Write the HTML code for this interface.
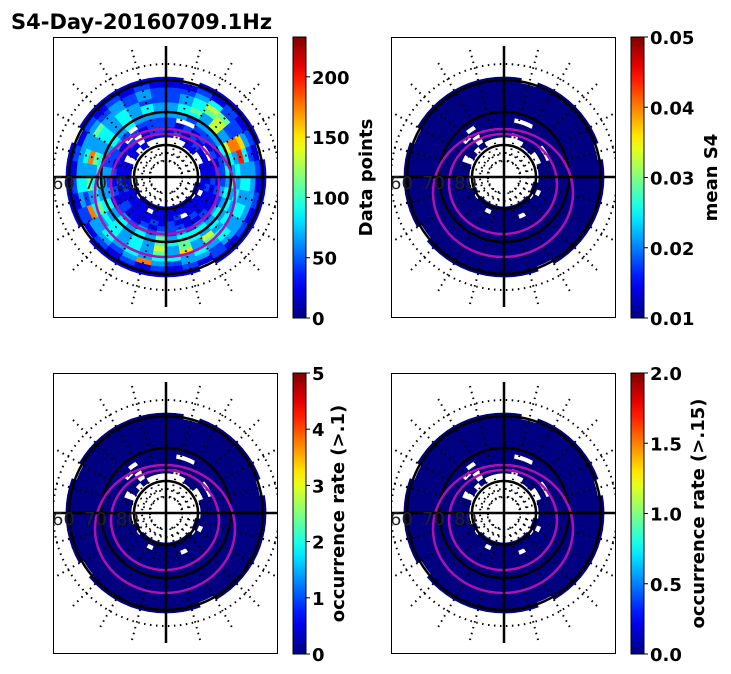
<!DOCTYPE html>
<html><head><meta charset="utf-8">
<style>
html,body{margin:0;padding:0;background:#fff;}
svg{display:block;font-family:"DejaVu Sans","Liberation Sans",sans-serif;}
</style></head>
<body>
<svg id="fig" width="731" height="674" viewBox="0 0 731 674" xmlns="http://www.w3.org/2000/svg">
<text x="11" y="29" font-size="21" font-weight="bold" fill="#000">S4-Day-20160709.1Hz</text>
</svg>
<script>
// ring-by-sector data (level 0-9, value = level*22 data points; '.' = no data); 36 sectors of 10°, clockwise from north
const ringRadii = [30,35,40,45,50,55,60,65,70,75,80,85,90,95,100];
const countLevels = [
"..........11.1111111111.1...........",
"...11..1111.11111111.11111111.1.1...",
"1.1121111121111.2111111112111.11.111",
"12121..1121111211212111211211112.122",
"2121212121211211222121121212121.2122",
"2..22212223232323232323213232232.222",
"332333434343434443534343433323434333",
"344363643534343454534343434543434343",
"345363834343436353634344544353434343",
"234562893434345373534343435383434322",
"234652743434343434434343824343533232",
"223422323333332332383233234333323232",
"112121212121212121212121212121212121",
"1.11111.1111111.1111111.11111.111111"
];
const panelNames = ["data-points","mean-s4","occurrence-rate-01","occurrence-rate-015"];
const panelCenters = [[166,177],[504,177],[166,513],[504,513]];
const cbTicks = [[0,50,100,150,200],[0.01,0.02,0.03,0.04,0.05],[0,1,2,3,4,5],[0.0,0.5,1.0,1.5,2.0]];
const cbTickLabels = [["0","50","100","150","200"],["0.01","0.02","0.03","0.04","0.05"],["0","1","2","3","4","5"],["0.0","0.5","1.0","1.5","2.0"]];
const cbRange = [[0,233],[0.01,0.05],[0,5],[0,2]];
const cbTitles = ["Data points","mean S4","occurrence rate (>.1)","occurrence rate (>.15)"];
const latLabels = ["60","70","80"];

const NS="http://www.w3.org/2000/svg";
const svg=document.getElementById('fig');
function mk(tag,attrs,parent){const e=document.createElementNS(NS,tag);for(const k in attrs)e.setAttribute(k,attrs[k]);(parent||svg).appendChild(e);return e;}
function jet(t){t=Math.max(0,Math.min(1,t));
 const r=Math.min(Math.max(Math.min(4*t-1.5,-4*t+4.5),0),1);
 const g=Math.min(Math.max(Math.min(4*t-0.5,-4*t+3.5),0),1);
 const b=Math.min(Math.max(Math.min(4*t+0.5,-4*t+2.5),0),1);
 return `rgb(${Math.round(r*255)},${Math.round(g*255)},${Math.round(b*255)})`;}
function pt(cx,cy,r,a){const t=a*Math.PI/180;return [cx+r*Math.sin(t),cy-r*Math.cos(t)];}

const defs=mk('defs',{});
const grad=mk('linearGradient',{id:'jetg',x1:0,y1:1,x2:0,y2:0},defs);
for(let i=0;i<=20;i++){mk('stop',{offset:i/20,'stop-color':jet(i/20)},grad);}

panelCenters.forEach((c,p)=>{
 const [cx,cy]=c;
 const x0=cx-113,y0=cy-140,w=225,h=281;
 const cp=mk('clipPath',{id:'clip'+p},defs);
 mk('rect',{x:x0,y:y0,width:w,height:h},cp);
 const g=mk('g',{'clip-path':`url(#clip${p})`});
 
 
 const hm=mk('g',{},g);
 
 
 countLevels.forEach((row,ri)=>{
  const r1=ringRadii[ri],r2=ringRadii[ri+1];
  for(let s=0;s<36;s++){
   const ch=row.charAt(s);
   if(ch===''||ch==='.')continue;
   const lvl=+ch;
   const t=p===0?(lvl*22)/cbRange[0][1]:0;
   const a1=s*10,a2=s*10+10;
   const A=pt(cx,cy,r1,a1),B=pt(cx,cy,r2,a1),C=pt(cx,cy,r2,a2),D=pt(cx,cy,r1,a2);
   const col=jet(t);
   const cell=mk('path',{d:`M${A}L${B}A${r2},${r2} 0 0 1 ${C}L${D}A${r1},${r1} 0 0 0 ${A}Z`,fill:col,stroke:col,'stroke-width':0.8},hm);
   
   
  }
 });
 // dotted grid
 [16,24,113].forEach(r=>mk('circle',{cx,cy,r,fill:'none',stroke:'#000','stroke-width':2,'stroke-dasharray':'1.5 4.5'},g));
 for(let a=15;a<360;a+=15){if(a%90===0)continue;
  const A=pt(cx,cy,16,a),B=pt(cx,cy,132,a);
  mk('line',{x1:A[0],y1:A[1],x2:B[0],y2:B[1],stroke:'#000','stroke-width':2,'stroke-dasharray':'1.5 4.5'},g);}
 // solid circles
 [32,65,97].forEach(r=>mk('circle',{cx,cy,r,fill:'none',stroke:'#000','stroke-width':2.5},g));
 // magenta ovals
 mk('ellipse',{cx:cx-1,cy:cy+7,rx:54,ry:50,fill:'none',stroke:'#b010b0','stroke-width':2.5},g);
 mk('ellipse',{cx:cx-1,cy:cy+16,rx:70,ry:64,fill:'none',stroke:'#b010b0','stroke-width':2.5},g);
 // crosshair
 mk('line',{x1:cx,y1:cy-131,x2:cx,y2:cy+130,stroke:'#000','stroke-width':2.5},g);
 mk('line',{x1:x0,y1:cy,x2:x0+w,y2:cy,stroke:'#000','stroke-width':2.5},g);
 latLabels.forEach((lab,i)=>{
  const lt=mk('text',{x:x0-1+i*32,y:cy+12,'font-size':18,fill:'#222'},g);
  lt.textContent=lab;
  
  
 });
 const box=mk('rect',{x:x0+0.5,y:y0+0.5,width:w-1,height:h-1,fill:'none',stroke:'#000','stroke-width':1});
 
 
 // colorbar
 const bx=cx+127,bw=13;
 const cb=mk('g',{});
 
 
 mk('rect',{x:bx,y:y0,width:bw,height:h,fill:'url(#jetg)',stroke:'#000','stroke-width':1},cb);
 const [lo,hi]=cbRange[p];
 cbTicks[p].forEach((v,i)=>{
  const y=y0+h-(v-lo)/(hi-lo)*h;
  mk('line',{x1:bx+bw,y1:y,x2:bx+bw+4,y2:y,stroke:'#000','stroke-width':1},cb);
  const t=mk('text',{x:bx+bw+6,y:y+7,'font-size':18,'font-weight':'bold'},cb);
  t.textContent=cbTickLabels[p][i];
  
  
 });
 const labX=[372,717,344,704][p];
 const tt=mk('text',{x:labX,y:y0+h/2,'font-size':18,'font-weight':'bold','text-anchor':'middle',transform:`rotate(-90 ${labX} ${y0+h/2})`},cb);
 tt.textContent=cbTitles[p];
 
 
});
</script>
</body></html>
